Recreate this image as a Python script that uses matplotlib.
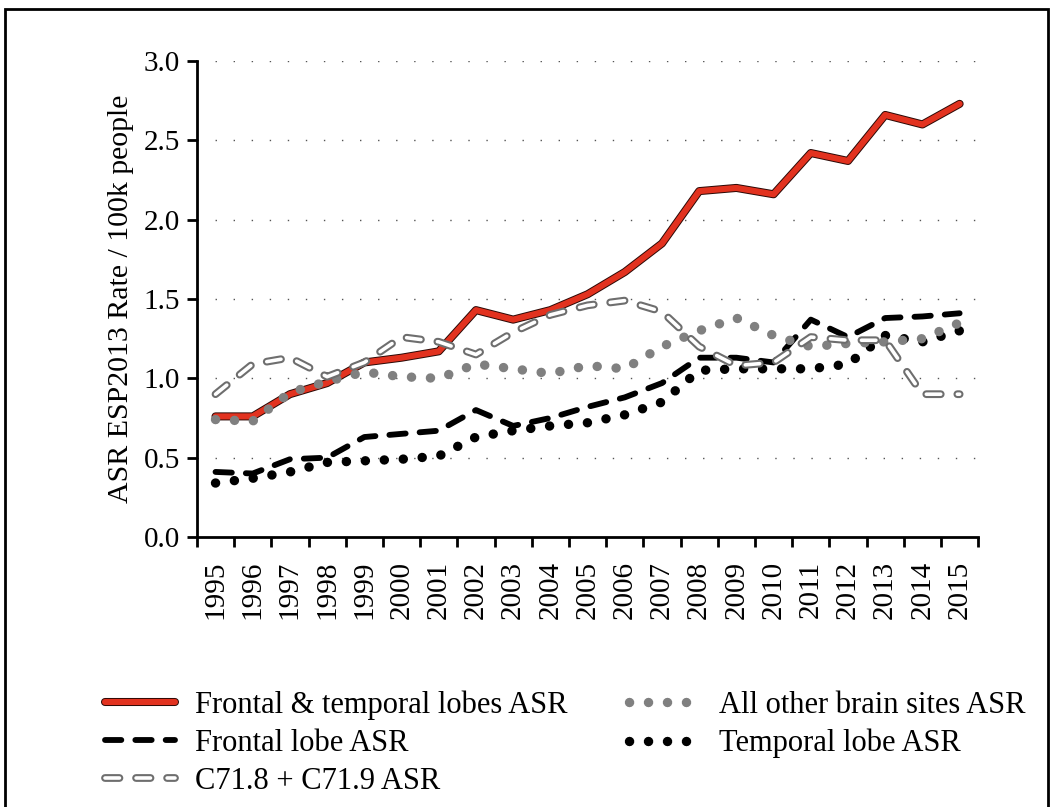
import matplotlib
matplotlib.use('Agg')
import matplotlib.pyplot as plt
import matplotlib.patheffects as pe
from matplotlib.patches import Rectangle

# data
years = [str(y) for y in range(1995, 2016)]
frontalTemporal = [0.76, 0.76, 0.90, 0.97, 1.10, 1.13, 1.17, 1.43, 1.37, 1.43, 1.53,
                   1.67, 1.85, 2.18, 2.20, 2.16, 2.42, 2.37, 2.66, 2.60, 2.73]
frontal = [0.41, 0.40, 0.49, 0.50, 0.63, 0.65, 0.67, 0.80, 0.70, 0.75, 0.82,
           0.88, 0.97, 1.13, 1.13, 1.10, 1.37, 1.26, 1.38, 1.39, 1.41]
temporal = [0.34, 0.37, 0.41, 0.47, 0.48, 0.49, 0.51, 0.63, 0.67, 0.70, 0.72,
            0.77, 0.85, 1.05, 1.06, 1.06, 1.06, 1.09, 1.27, 1.23, 1.30]
otherSites = [0.74, 0.73, 0.91, 0.98, 1.04, 1.01, 1.00, 1.09, 1.06, 1.03, 1.08,
              1.06, 1.20, 1.30, 1.38, 1.27, 1.20, 1.22, 1.23, 1.25, 1.35]
c71 = [0.90, 1.09, 1.13, 1.01, 1.10, 1.26, 1.23, 1.15, 1.29, 1.40, 1.46,
       1.49, 1.42, 1.20, 1.08, 1.10, 1.26, 1.24, 1.24, 0.90, 0.90]

plt.rcParams['font.family'] = ['Liberation Serif', 'DejaVu Serif']

fig = plt.figure(figsize=(10.53, 8.07), dpi=100)
ax = fig.add_axes([0.187, 0.3346, 0.742, 0.5898])
x = list(range(len(years)))

# lines (px -> pt at 100 dpi: * 0.72)
red, = ax.plot(x, frontalTemporal, color='#e2321f', lw=4.4, solid_capstyle='round',
               path_effects=[pe.Stroke(linewidth=5.8, foreground='#2a0805'), pe.Normal()],
               label='Frontal & temporal lobes ASR', zorder=3)
fr, = ax.plot(x, frontal, color='black', lw=4.2, dash_capstyle='round',
              linestyle=(0, (2.8, 2.4)), label='Frontal lobe ASR', zorder=4)
te, = ax.plot(x, temporal, color='black', lw=6.8, dash_capstyle='round',
              linestyle=(0, (0.01, 2.0)), label='Temporal lobe ASR', zorder=4)
ot, = ax.plot(x, otherSites, color='#808080', lw=6.8, dash_capstyle='round',
              linestyle=(0, (0.01, 2.0)), label='All other brain sites ASR', zorder=5)
cc, = ax.plot(x, c71, color='white', lw=2.6, dash_capstyle='round',
              linestyle=(0, (4.0, 4.6)),
              path_effects=[pe.Stroke(linewidth=5.6, foreground='#6e6e6e'), pe.Normal()],
              label='C71.8 + C71.9 ASR', zorder=6)

# axes styling, excel-like category axis
ax.set_xlim(-0.5, len(years) - 0.5)
ax.set_ylim(0, 3.0)
ax.set_yticks([0, 0.5, 1.0, 1.5, 2.0, 2.5, 3.0])
ax.set_yticklabels(['0.0', '0.5', '1.0', '1.5', '2.0', '2.5', '3.0'], fontsize=21)
ax.set_xticks([i - 0.5 for i in range(len(years) + 1)])
ax.set_xticklabels([])
ax.set_xticks(x, minor=True)
ax.set_xticklabels(years, minor=True, rotation=90, fontsize=21)
ax.tick_params(axis='x', which='major', length=7, width=2, direction='out')
ax.tick_params(axis='x', which='minor', length=0, pad=17)
ax.tick_params(axis='y', length=7, width=2, direction='out', pad=5)
for s in ['top', 'right']:
    ax.spines[s].set_visible(False)
for s in ['left', 'bottom']:
    ax.spines[s].set_linewidth(2)
ax.set_ylabel('ASR ESP2013 Rate / 100k people', fontsize=21.5, labelpad=7)

# dotted gridlines
for yv in [0.5, 1.0, 1.5, 2.0, 2.5, 3.0]:
    ax.axhline(yv, color='#555555', lw=1.0, linestyle=(0, (1, 12)), zorder=1)

# legend below the plot
fig.legend(handles=[red, fr, cc, ot, te], ncol=2, loc='upper left',
           bbox_to_anchor=(0.088, 0.16), frameon=False, fontsize=22,
           handlelength=2.3, handletextpad=0.65, columnspacing=2.0,
           labelspacing=0.3, borderaxespad=0)

# frame round the whole picture
fig.patches.append(Rectangle((0.005, -0.02), 0.99, 1.009, transform=fig.transFigure,
                             fill=False, lw=2, ec='black'))

plt.savefig('out.png', dpi=100)
